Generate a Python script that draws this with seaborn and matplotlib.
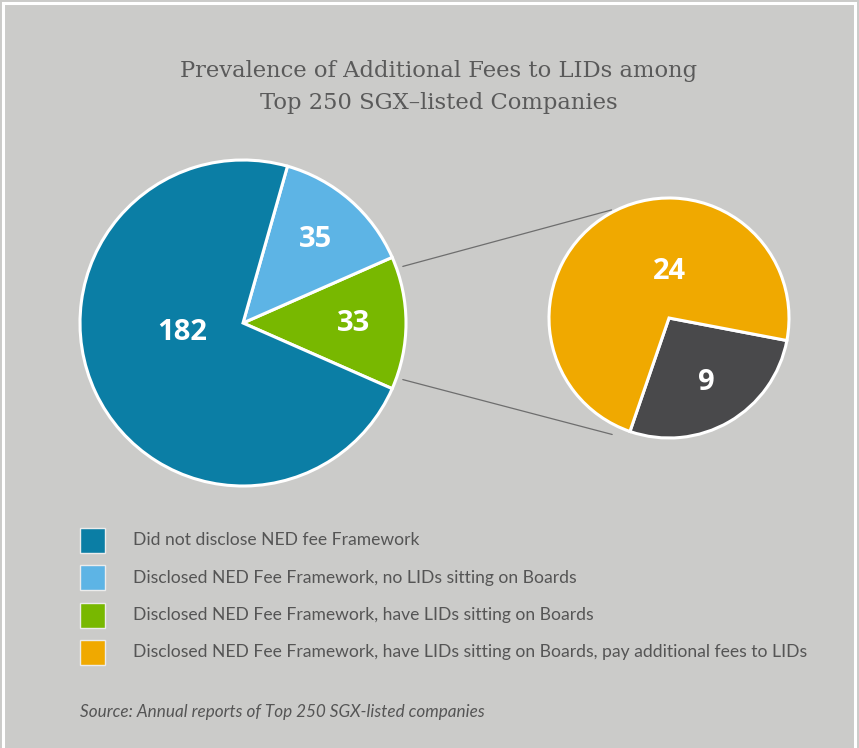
import matplotlib
matplotlib.use("Agg")
import matplotlib.pyplot as plt
import seaborn as sns
import numpy as np
from matplotlib.patches import Rectangle

# ---------------- data ----------------
title_text = "Prevalence of Additional Fees to LIDs among\nTop 250 SGX–listed Companies"
main_categories = ["Have LIDs on Boards", "No LIDs on Boards", "Did not disclose"]
main_values = [33, 35, 182]
main_colors = ["#78b800", "#5db4e5", "#0b7ea5"]
sub_categories = ["No additional fees", "Pay additional fees"]
sub_values = [9, 24]
sub_colors = ["#49494b", "#f0a900"]
legend_labels = [
    "Did not disclose NED fee Framework",
    "Disclosed NED Fee Framework, no LIDs sitting on Boards",
    "Disclosed NED Fee Framework, have LIDs sitting on Boards",
    "Disclosed NED Fee Framework, have LIDs sitting on Boards, pay additional fees to LIDs",
]
legend_colors = ["#0b7ea5", "#5db4e5", "#78b800", "#f0a900"]
source_text = "Source: Annual reports of Top 250 SGX-listed companies"

# ---------------- style ----------------
BG = "#cbcbc9"
TXT = "#555555"
sns.set_style("white", {"axes.facecolor": BG, "figure.facecolor": BG})
plt.rcParams["font.family"] = ["Lato", "DejaVu Sans"]

W, H = 859, 748
fig = plt.figure(figsize=(W / 100, H / 100), dpi=100, facecolor=BG)
ax = fig.add_axes([0, 0, 1, 1])
ax.set_facecolor(BG)

# big pie
big_c = (243, H - 323)
big_r = 163
tot = sum(main_values)
wedges, texts, autot = ax.pie(
    main_values, colors=main_colors, startangle=-main_values[0] / tot * 180,
    center=big_c, radius=big_r, counterclock=True,
    wedgeprops=dict(edgecolor="white", linewidth=2.2),
    autopct=lambda p: f"{p * tot / 100:.0f}", pctdistance=0.68,
    textprops=dict(color="white", fontsize=21, fontweight="bold",
                   family=["Open Sans", "DejaVu Sans"]))
a = np.deg2rad(189)
autot[2].set_position((big_c[0] + 0.38 * big_r * np.cos(a), big_c[1] + 0.38 * big_r * np.sin(a)))

# small pie
sm_c = (669, H - 318)
sm_r = 120
stot = sum(sub_values)
w2, t2, autot2 = ax.pie(
    sub_values, colors=sub_colors, startangle=-109,
    center=sm_c, radius=sm_r,
    wedgeprops=dict(edgecolor="white", linewidth=2.2),
    autopct=lambda p: f"{p * stot / 100:.0f}", pctdistance=0.62,
    textprops=dict(color="white", fontsize=21, fontweight="bold",
                   family=["Open Sans", "DejaVu Sans"]))
a = np.deg2rad(89)
autot2[1].set_position((sm_c[0] + 0.39 * sm_r * np.cos(a), sm_c[1] + 0.39 * sm_r * np.sin(a)))

# connector lines
for a1, a2, f2 in [(19.5, 118, 1.02), (-19.5, -116, 1.08)]:
    r1, r2 = np.deg2rad(a1), np.deg2rad(a2)
    x0 = big_c[0] + 1.04 * big_r * np.cos(r1)
    y0 = big_c[1] + 1.04 * big_r * np.sin(r1)
    x1 = sm_c[0] + f2 * sm_r * np.cos(r2)
    y1 = sm_c[1] + f2 * sm_r * np.sin(r2)
    ax.plot([x0, x1], [y0, y1], color="#6e6e6e", lw=0.9)

ax.set_xlim(0, W)
ax.set_ylim(0, H)
ax.set_aspect("equal")
ax.axis("off")

# title
ax.text(439, H - 87, title_text, ha="center", va="center", fontsize=16.3,
        color="#5a5a5a", family=["DejaVu Serif"], linespacing=1.6)

# legend
for i, (lab, col) in enumerate(zip(legend_labels, legend_colors)):
    yc = H - (540 + i * 37.5)
    ax.add_patch(Rectangle((80, yc - 12.5), 25, 25, facecolor=col,
                           edgecolor="#ececec", lw=1))
    ax.text(133, yc, lab, ha="left", va="center", fontsize=12.6, color=TXT)

ax.text(80, H - 712, source_text, ha="left", va="center", fontsize=12.3,
        color=TXT, style="italic")

# white frame
fig.patches.append(Rectangle((2.5 / W, -0.05), (855 - 2.5) / W, 1.05 - 2.5 / H,
                             transform=fig.transFigure, fill=False,
                             edgecolor="white", lw=2.2))

fig.savefig("out.png", dpi=100, facecolor=BG)
